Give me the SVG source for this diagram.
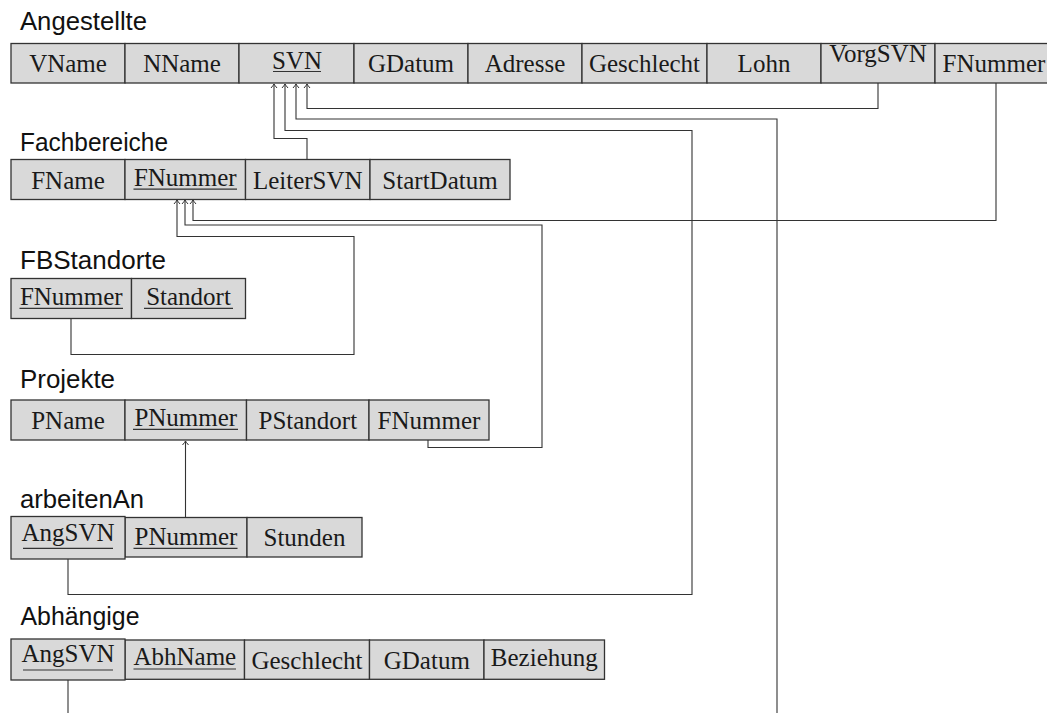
<svg xmlns="http://www.w3.org/2000/svg" width="1047" height="713" viewBox="0 0 1047 713">
<style>
.c{fill:#d9d9d9;stroke:#333;stroke-width:1.3}
.t{font-family:"Liberation Serif",serif;font-size:25px;fill:#1a1a1a;text-anchor:middle}
.h{font-family:"Liberation Sans",sans-serif;font-size:26px;fill:#111}
.u{stroke:#333;stroke-width:1.2}
#connectors path{fill:none;stroke:#333;stroke-width:1.1}
</style>
<defs>
<marker id="arr" markerUnits="userSpaceOnUse" viewBox="-6 -5 7 10" markerWidth="7" markerHeight="10" refX="0" refY="0" orient="auto">
<path d="M-4,-3 Q-1.2,-0.6 0,0 Q-1.2,0.6 -4,3" fill="none" stroke="#333" stroke-width="1"/>
</marker>
</defs>
<rect width="1047" height="713" fill="#fff"/>

<g id="connectors">
<path d="M878,83 V108.5 H307 V84" marker-end="url(#arr)"/>
<path d="M307,159.5 V138.5 H274 V84" marker-end="url(#arr)"/>
<path d="M68,557 V594.5 H692 V130.5 H285 V84" marker-end="url(#arr)"/>
<path d="M777,713 V119 H296 V84" marker-end="url(#arr)"/>
<path d="M68,680 V713"/>
<path d="M996,83 V220.5 H193 V200" marker-end="url(#arr)"/>
<path d="M428,440 V447.5 H542 V225 H185 V200" marker-end="url(#arr)"/>
<path d="M71,318.5 V354.5 H354 V236.5 H177 V200" marker-end="url(#arr)"/>
<path d="M185.5,517.5 V441" marker-end="url(#arr)"/>
</g>

<g id="angestellte">
<text class="h" x="20" y="29.5" textLength="127" lengthAdjust="spacingAndGlyphs">Angestellte</text>
<rect class="c" x="11" y="43.5" width="114" height="39.5"/>
<rect class="c" x="125" y="43.5" width="114" height="39.5"/>
<rect class="c" x="239" y="43.5" width="115" height="39.5"/>
<rect class="c" x="354" y="43.5" width="114" height="39.5"/>
<rect class="c" x="468" y="43.5" width="114" height="39.5"/>
<rect class="c" x="582" y="43.5" width="125" height="39.5"/>
<rect class="c" x="707" y="43.5" width="114" height="39.5"/>
<rect class="c" x="821" y="43.5" width="114" height="39.5"/>
<rect class="c" x="935" y="43.5" width="125" height="39.5"/>
<text class="t" x="68" y="72">VName</text>
<text class="t" x="182" y="72">NName</text>
<text class="t" x="297" y="68.5">SVN</text>
<line class="u" x1="273" y1="71.5" x2="321" y2="71.5"/>
<text class="t" x="411" y="72">GDatum</text>
<text class="t" x="525" y="72">Adresse</text>
<text class="t" x="644.5" y="72">Geschlecht</text>
<text class="t" x="764" y="72">Lohn</text>
<text class="t" x="878" y="62">VorgSVN</text>
<text class="t" x="994" y="72">FNummer</text>
</g>

<g id="fachbereiche">
<text class="h" x="20" y="150.7" textLength="148" lengthAdjust="spacingAndGlyphs">Fachbereiche</text>
<rect class="c" x="11" y="159.5" width="114" height="40"/>
<rect class="c" x="125" y="159.5" width="120.5" height="40"/>
<rect class="c" x="245.5" y="159.5" width="124.5" height="40"/>
<rect class="c" x="370" y="159.5" width="140" height="40"/>
<text class="t" x="68" y="188.5">FName</text>
<text class="t" x="185.3" y="185.7">FNummer</text>
<line class="u" x1="133.5" y1="189.2" x2="237" y2="189.2"/>
<text class="t" x="307.8" y="188.5">LeiterSVN</text>
<text class="t" x="440" y="188.5">StartDatum</text>
</g>

<g id="fbstandorte">
<text class="h" x="20" y="269.3" textLength="146" lengthAdjust="spacingAndGlyphs">FBStandorte</text>
<rect class="c" x="11" y="278.5" width="120.5" height="40"/>
<rect class="c" x="131.5" y="278.5" width="114" height="40"/>
<text class="t" x="71.3" y="304.5">FNummer</text>
<line class="u" x1="19.5" y1="308.3" x2="123" y2="308.3"/>
<text class="t" x="188.5" y="304.5">Standort</text>
<line class="u" x1="144" y1="308.3" x2="233" y2="308.3"/>
</g>

<g id="projekte">
<text class="h" x="20" y="388.3" textLength="95" lengthAdjust="spacingAndGlyphs">Projekte</text>
<rect class="c" x="11" y="400" width="114" height="40"/>
<rect class="c" x="125" y="400" width="121.5" height="40"/>
<rect class="c" x="246.5" y="400" width="122.5" height="40"/>
<rect class="c" x="369" y="400" width="120" height="40"/>
<text class="t" x="68" y="428.5">PName</text>
<text class="t" x="185.8" y="425.7">PNummer</text>
<line class="u" x1="133" y1="429.3" x2="238" y2="429.3"/>
<text class="t" x="307.8" y="428.5">PStandort</text>
<text class="t" x="429" y="428.5">FNummer</text>
</g>

<g id="arbeitenAn">
<text class="h" x="20" y="508.3" textLength="124" lengthAdjust="spacingAndGlyphs">arbeitenAn</text>
<rect class="c" x="125" y="517.5" width="122" height="39.5"/>
<rect class="c" x="247" y="517.5" width="115" height="39.5"/>
<rect class="c" x="11" y="516.5" width="114" height="42.5"/>
<text class="t" x="68" y="540.5">AngSVN</text>
<line class="u" x1="23" y1="548.3" x2="113" y2="548.3"/>
<text class="t" x="186" y="544.5">PNummer</text>
<line class="u" x1="133.5" y1="548.3" x2="237.5" y2="548.3"/>
<text class="t" x="304.5" y="546">Stunden</text>
</g>

<g id="abhaengige">
<text class="h" x="20.5" y="625" textLength="119" lengthAdjust="spacingAndGlyphs">Abhängige</text>
<rect class="c" x="125" y="640" width="119.5" height="39.3"/>
<rect class="c" x="244.5" y="640" width="125" height="39.3"/>
<rect class="c" x="369.5" y="640" width="114.5" height="39.3"/>
<rect class="c" x="484" y="640" width="120.5" height="39.3"/>
<rect class="c" x="11" y="639" width="114" height="41"/>
<text class="t" x="68" y="661.7">AngSVN</text>
<line class="u" x1="23" y1="670" x2="113" y2="670"/>
<text class="t" x="184.8" y="665">AbhName</text>
<line class="u" x1="133.5" y1="669" x2="236" y2="669"/>
<text class="t" x="307" y="668.5">Geschlecht</text>
<text class="t" x="426.8" y="669">GDatum</text>
<text class="t" x="544.3" y="666">Beziehung</text>
</g>
</svg>
